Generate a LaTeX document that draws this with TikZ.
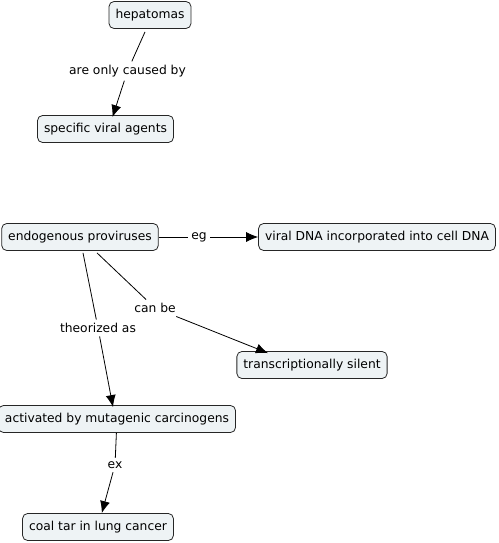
\documentclass[tikz,border=0pt]{standalone}
\usepackage{fontspec}
\setmainfont{DejaVu Sans}
\usetikzlibrary{arrows.meta}
\definecolor{conceptfill}{RGB}{238,243,245}

\begin{document}
\begin{tikzpicture}[
    x=1pt,y=-1pt,
    concept/.style={rectangle,rounded corners=5pt,draw=black!85,fill=conceptfill,
        line width=0.8pt,minimum height=27pt,inner xsep=6.5pt,font=\fontsize{12.3}{14}\selectfont},
    linking/.style={fill=white,inner sep=3.5pt,font=\fontsize{12.3}{14}\selectfont},
    link/.style={line width=0.8pt},
    arrow/.style={link,-{Latex[length=12pt,width=10pt]}},
]
\useasboundingbox (0,0) rectangle (498,543);

% concepts
\node[concept] (hepatomas) at (150,15) {hepatomas};
\node[concept] (viral) at (105.5,129) {specific viral agents};
\node[concept] (endogenous) at (80,237) {endogenous proviruses};
\node[concept] (incorporated) at (377,237) {viral DNA incorporated into cell DNA};
\node[concept] (silent) at (312,365) {transcriptionally silent};
\node[concept] (activated) at (117,419) {activated by mutagenic carcinogens};
\node[concept] (coaltar) at (98,527) {coal tar in lung cancer};

% linking phrases
\node[linking] (caused) at (127.5,71) {are only caused by};
\node[linking] (eg) at (199,237) {eg};
\node[linking] (canbe) at (155,308) {can be};
\node[linking] (theorized) at (98,328) {theorized as};
\node[linking] (ex) at (115,465) {ex};

% connectors
\draw[link] ([xshift=-5pt,yshift=-3pt]hepatomas.south) -- (caused);
\draw[arrow] (caused) -- ([xshift=7pt,yshift=-2pt]viral.north);
\draw[link] (endogenous) -- (eg);
\draw[arrow] (eg) -- (incorporated);
\draw[link] ([xshift=17pt,yshift=-2pt]endogenous.south) -- (canbe);
\draw[arrow] (canbe) -- ([xshift=-44pt,yshift=-2pt]silent.north);
\draw[link] ([xshift=3pt,yshift=-2pt]endogenous.south) -- (theorized);
\draw[arrow] (theorized) -- ([xshift=-4pt,yshift=-2pt]activated.north);
\draw[link] (activated) -- (ex);
\draw[arrow] (ex) -- (coaltar);
\end{tikzpicture}
\end{document}
